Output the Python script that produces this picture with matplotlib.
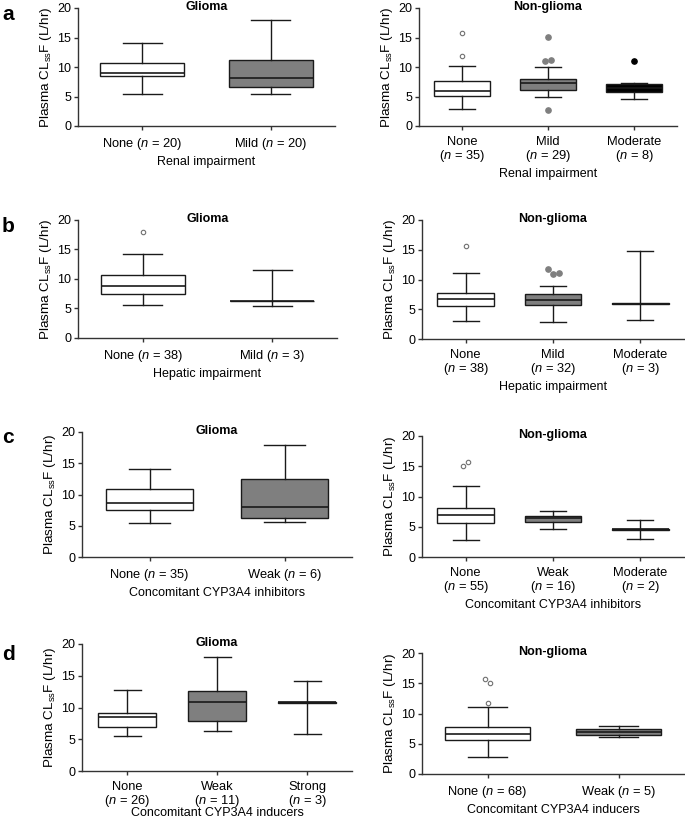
import matplotlib
matplotlib.use("Agg")
from matplotlib import pyplot as plt

import matplotlib as mpl
mpl.rcParams.update({
    "font.family": "Liberation Sans",
    "mathtext.fontset": "custom",
    "mathtext.rm": "Liberation Sans",
    "mathtext.it": "Liberation Sans:italic",
    "font.size": 9.5,
    "axes.labelsize": 9.5,
    "xtick.labelsize": 9.3,
    "ytick.labelsize": 9,
    "axes.linewidth": 1.0,
})

W, H = 685, 824

# five-number summaries: [whislo, q1, median, q3, whishi]
renal_glioma_labels = ["None ($n$ = 20)", "Mild ($n$ = 20)"]
renal_glioma_box = [[5.45, 8.45, 8.95, 10.65, 14.15], [5.5, 6.65, 8.1, 11.25, 17.9]]
renal_glioma_fliers = [[], []]

renal_non_labels = ["None\n($n$ = 35)", "Mild\n($n$ = 29)", "Moderate\n($n$ = 8)"]
renal_non_box = [[2.95, 5.15, 5.95, 7.6, 10.25], [4.95, 6.1, 7.25, 7.95, 10.05],
                 [4.65, 5.8, 6.5, 7.1, 7.35]]
renal_non_fliers = [[11.8, 15.7], [2.75, 11.1, 11.15, 15.05], [11.0]]

hep_glioma_labels = ["None ($n$ = 38)", "Mild ($n$ = 3)"]
hep_glioma_box = [[5.6, 7.45, 8.85, 10.7, 14.2], [5.5, 6.25, 6.3, 6.35, 11.45]]
hep_glioma_fliers = [[17.9], []]

hep_non_labels = ["None\n($n$ = 38)", "Mild\n($n$ = 32)", "Moderate\n($n$ = 3)"]
hep_non_box = [[3.05, 5.55, 6.8, 7.8, 11.1], [2.8, 5.75, 6.5, 7.6, 8.9],
               [3.25, 5.9, 5.95, 6.0, 14.85]]
hep_non_fliers = [[15.65], [11.7, 11.0, 11.15], []]

inh_glioma_labels = ["None ($n$ = 35)", "Weak ($n$ = 6)"]
inh_glioma_box = [[5.5, 7.45, 8.7, 10.85, 14.15], [5.55, 6.2, 8.05, 12.45, 17.95]]
inh_glioma_fliers = [[], []]

inh_non_labels = ["None\n($n$ = 55)", "Weak\n($n$ = 16)", "Moderate\n($n$ = 2)"]
inh_non_box = [[2.75, 5.65, 6.95, 8.05, 11.75], [4.6, 5.75, 6.5, 6.8, 7.65],
               [2.95, 4.5, 4.55, 4.6, 6.15]]
inh_non_fliers = [[15.0, 15.7], [], []]

ind_glioma_labels = ["None\n($n$ = 26)", "Weak\n($n$ = 11)", "Strong\n($n$ = 3)"]
ind_glioma_box = [[5.55, 6.9, 8.55, 9.2, 12.7], [6.35, 7.8, 10.8, 12.65, 17.9],
                  [5.75, 10.75, 10.8, 10.85, 14.2]]
ind_glioma_fliers = [[], [], []]

ind_non_labels = ["None ($n$ = 68)", "Weak ($n$ = 5)"]
ind_non_box = [[2.8, 5.65, 6.6, 7.85, 11.1], [6.1, 6.4, 6.9, 7.45, 8.0]]
ind_non_fliers = [[15.65, 11.75, 15.05], []]

box_fill = ["white", "#7f7f7f", "black"]
line_col = "#1a1a1a"


def make_ax(l, t, r, b):
    return fig.add_axes([l / W, 1 - b / H, (r - l) / W, (b - t) / H])


def boxpanel(ax, labels, boxes, fliers, title, xlabel, xpad=3):
    n = len(labels)
    stats = []
    for lab, (lo, q1, med, q3, hi) in zip(labels, boxes):
        stats.append({"whislo": lo, "q1": q1, "med": med, "q3": q3, "whishi": hi,
                      "label": lab})
    pos = list(range(1, n + 1))
    lp = dict(color=line_col, linewidth=1.0)
    res = ax.bxp(stats, positions=pos, widths=0.65, capwidths=0.3, patch_artist=True,
                 showfliers=False, boxprops=dict(edgecolor=line_col, linewidth=1.0),
                 whiskerprops=lp, capprops=lp,
                 medianprops=dict(color=line_col, linewidth=1.2))
    for i, patch in enumerate(res["boxes"]):
        patch.set_facecolor(box_fill[i])
    ax.set_xlim(0.5, n + 0.5)
    ax.set_ylim(0, 20)

    # small horizontal dodge for outliers that sit close together
    bbox = ax.get_position()
    px_per_unit = bbox.width * W / n
    step = 5.5 / px_per_unit
    for i, vals in enumerate(fliers):
        used = [False] * len(vals)
        for j, v in enumerate(vals):
            if used[j]:
                continue
            group = [k for k in range(len(vals)) if not used[k] and abs(vals[k] - v) < 1.0]
            for k in group:
                used[k] = True
            for gi, k in enumerate(group):
                x = pos[i] + (gi - (len(group) - 1) / 2) * step
                if i == 0:
                    ax.plot(x, vals[k], "o", ms=3.2, mfc="white", mec="#707070", mew=0.8)
                else:
                    ax.plot(x, vals[k], "o", ms=3.8, mfc=box_fill[i], mec=box_fill[i])

    ax.spines["top"].set_visible(False)
    ax.spines["right"].set_visible(False)
    ax.spines["left"].set_color("#333333")
    ax.spines["bottom"].set_color("#333333")
    ax.set_yticks([0, 5, 10, 15, 20])
    ax.tick_params(length=3, width=1.0, color="#333333", pad=2)
    ax.tick_params(axis="x", pad=4)
    ax.set_xticks(pos)
    ax.set_xticklabels(labels, linespacing=1.0)
    ax.set_ylabel(r"Plasma CL$_{\mathrm{ss}}$F (L/hr)", labelpad=2, fontsize=9.7)
    ax.set_xlabel(xlabel, labelpad=xpad, fontsize=9)
    ax.text(0.5, 1.01, title, transform=ax.transAxes, ha="center", va="center",
            fontsize=9, fontweight="bold")


fig = plt.figure(figsize=(6.85, 8.24), dpi=100)

boxpanel(make_ax(78, 8, 335, 126), renal_glioma_labels, renal_glioma_box,
         renal_glioma_fliers, "Glioma", "Renal impairment")
boxpanel(make_ax(419, 8, 677, 126), renal_non_labels, renal_non_box,
         renal_non_fliers, "Non-glioma", "Renal impairment")
boxpanel(make_ax(78, 220, 337, 338), hep_glioma_labels, hep_glioma_box,
         hep_glioma_fliers, "Glioma", "Hepatic impairment")
boxpanel(make_ax(422, 220, 684, 339), hep_non_labels, hep_non_box,
         hep_non_fliers, "Non-glioma", "Hepatic impairment")
boxpanel(make_ax(82, 432, 352, 557), inh_glioma_labels, inh_glioma_box,
         inh_glioma_fliers, "Glioma", "Concomitant CYP3A4 inhibitors")
boxpanel(make_ax(422, 436, 684, 557), inh_non_labels, inh_non_box,
         inh_non_fliers, "Non-glioma", "Concomitant CYP3A4 inhibitors")
boxpanel(make_ax(82, 644, 352, 771), ind_glioma_labels, ind_glioma_box,
         ind_glioma_fliers, "Glioma", "Concomitant CYP3A4 inducers", xpad=-1)
boxpanel(make_ax(422, 653, 684, 774), ind_non_labels, ind_non_box,
         ind_non_fliers, "Non-glioma", "Concomitant CYP3A4 inducers")

for letter, y in [("a", 15), ("b", 227), ("c", 437), ("d", 655)]:
    fig.text(2 / W, 1 - y / H, letter, fontsize=15, fontweight="bold", va="center")

fig.savefig("out.png", dpi=100)
